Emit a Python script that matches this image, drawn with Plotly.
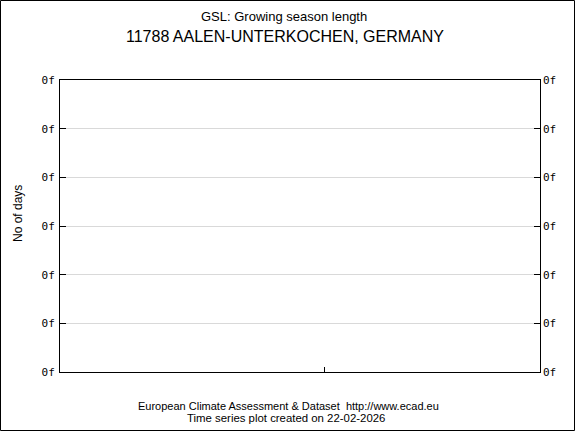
import plotly.graph_objects as go

# Data (empty series: the station has no valid GSL values)
years = []
gsl_days = []
y_tick_vals = [0, 1, 2, 3, 4, 5, 6]
y_tick_text = ["0f", "0f", "0f", "0f", "0f", "0f", "0f"]
x_tick_vals = [0.55]
x_tick_text = [""]

title1 = "GSL: Growing season length"
title2 = "11788 AALEN-UNTERKOCHEN, GERMANY"
footer1 = "European Climate Assessment & Dataset  http://www.ecad.eu"
footer2 = "Time series plot created on 22-02-2026"

W, H = 576, 432
L, R, T, B = 60, 36, 80, 60
PW, PH = W - L - R, H - T - B

def px(x):
    return (x - L) / PW

def py(y):
    return (H - B - y) / PH

fig = go.Figure()
fig.add_trace(go.Scatter(x=years, y=gsl_days, mode="lines", line=dict(color="black"), showlegend=False))
fig.add_trace(go.Scatter(x=years, y=gsl_days, mode="lines", yaxis="y2", showlegend=False))

axis_font = dict(family="DejaVu Sans Mono", size=11, color="black")
fig.update_layout(
    width=W, height=H,
    margin=dict(l=L, r=R, t=T, b=B, pad=0, autoexpand=False),
    paper_bgcolor="white", plot_bgcolor="white",
    font=dict(family="Liberation Sans, Arial", color="black"),
    xaxis=dict(range=[0, 1], tickvals=x_tick_vals, ticktext=x_tick_text, ticks="inside",
               ticklen=5, tickcolor="black", showline=True, linecolor="black", linewidth=1,
               mirror=True, showgrid=False, zeroline=False, fixedrange=True, automargin=False),
    yaxis=dict(range=[0, 6], tickvals=y_tick_vals, ticktext=y_tick_text, ticks="inside",
               ticklen=6, tickcolor="black", showline=True, linecolor="black", linewidth=1,
               mirror=True, showgrid=True, gridcolor="#d9d9d9", gridwidth=1, zeroline=False,
               tickfont=axis_font, ticklabelstandoff=2, automargin=False),
    yaxis2=dict(range=[0, 6], tickvals=y_tick_vals, ticktext=y_tick_text, ticks="inside",
                ticklen=6, tickcolor="black", overlaying="y", side="right", showgrid=False,
                zeroline=False, tickfont=axis_font, ticklabelstandoff=2, showline=False,
                automargin=False),
    showlegend=False,
)

anns = [
    (title1, 16, 13, 284),
    (title2, 36, 16, 285),
    (footer1, 406, 11, 288),
    (footer2, 418, 11.4, 286),
]
for text, y, size, x in anns:
    fig.add_annotation(text=text, x=px(x), xref="paper", y=py(y), yref="paper",
                       xanchor="center", yanchor="middle", showarrow=False,
                       font=dict(size=size, color="black", family="Liberation Sans, Arial"))

# y-axis title placed explicitly
fig.add_annotation(text="No of days", x=px(18), xref="paper", y=py(214), yref="paper",
                   xanchor="center", yanchor="middle", showarrow=False, textangle=-90,
                   font=dict(size=12, color="black", family="Liberation Sans, Arial"))

# outer image frame
fig.add_shape(type="rect", xref="paper", yref="paper",
              x0=px(0.5), x1=px(574.5), y0=py(430.5), y1=py(0.5),
              line=dict(color="black", width=1))

fig.write_html("out.html", config={"displayModeBar": False, "staticPlot": True},
               post_script="document.body.style.margin='0';document.body.style.overflow='hidden';")
